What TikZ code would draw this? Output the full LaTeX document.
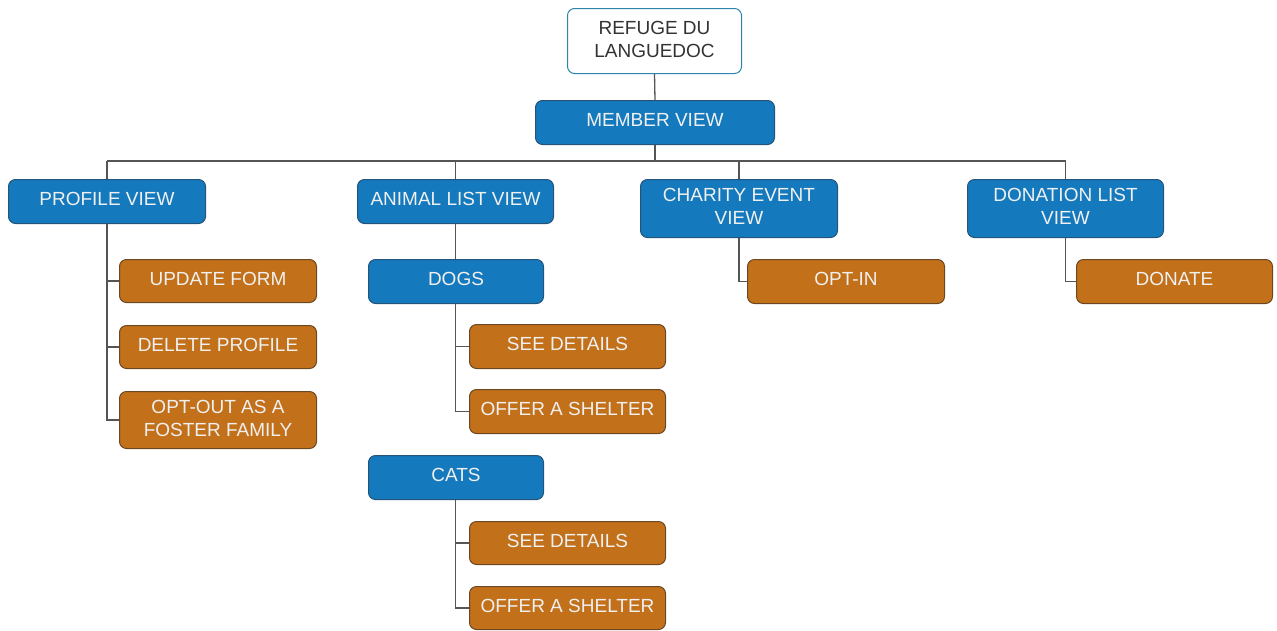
\documentclass[tikz,border=0pt]{standalone}
\usepackage{fontspec}
\setmainfont{Liberation Sans}
\begin{document}
\definecolor{viewblue}{HTML}{1479BD}
\definecolor{viewedge}{HTML}{25547A}
\definecolor{actorange}{HTML}{C2701A}
\definecolor{actedge}{HTML}{6B4722}
\definecolor{rootedge}{HTML}{2C86AC}
\definecolor{wire}{HTML}{555555}
\begin{tikzpicture}[x=1pt,y=-1pt,
  box/.style={rounded corners=7pt,line width=1pt,
    inner sep=0pt,anchor=north west},
  rootbox/.style={box,draw=rootedge,fill=white},
  viewbox/.style={box,draw=viewedge,fill=viewblue},
  actbox/.style={box,draw=actedge,fill=actorange},
  lbl/.style={font=\fontsize{19}{23}\selectfont,align=center,text=white!94!black},
  link/.style={draw=wire,line width=1.3pt}]
\useasboundingbox (0,0) rectangle (1277,630);

% title and top level
\node[rootbox,minimum width=174pt,minimum height=65pt] (root) at (567,8) {};
\node[lbl,text=black!80] (rootlbl) at ([yshift=1.5pt]root.center) {REFUGE DU\\LANGUEDOC};

\node[viewbox,minimum width=239pt,minimum height=44pt] (member) at (535,100) {};
\node[lbl] (memberlbl) at ([yshift=2.5pt]member.center) {MEMBER VIEW};

% the four views
\node[viewbox,minimum width=197pt,minimum height=44pt] (profile) at (8,179) {};
\node[lbl] (profilelbl) at ([yshift=2.5pt]profile.center) {PROFILE VIEW};

\node[viewbox,minimum width=196pt,minimum height=44pt] (animal) at (357,179) {};
\node[lbl] (animallbl) at ([yshift=2.5pt]animal.center) {ANIMAL LIST VIEW};

\node[viewbox,minimum width=197pt,minimum height=58pt] (charity) at (640,179) {};
\node[lbl] (charitylbl) at ([yshift=2.5pt]charity.center) {CHARITY EVENT\\VIEW};

\node[viewbox,minimum width=196pt,minimum height=58pt] (donation) at (967,179) {};
\node[lbl] (donationlbl) at ([yshift=2.5pt]donation.center) {DONATION LIST\\VIEW};

% profile actions
\node[actbox,minimum width=197pt,minimum height=43pt] (update) at (119,259) {};
\node[lbl] (updatelbl) at ([yshift=2.5pt]update.center) {UPDATE FORM};

\node[actbox,minimum width=197pt,minimum height=43pt] (delete) at (119,325) {};
\node[lbl] (deletelbl) at ([yshift=2.5pt]delete.center) {DELETE PROFILE};

\node[actbox,minimum width=197pt,minimum height=57pt] (optout) at (119,391) {};
\node[lbl] (optoutlbl) at ([yshift=2pt]optout.center) {OPT-OUT AS A\\FOSTER FAMILY};

% animal lists
\node[viewbox,minimum width=175pt,minimum height=44pt] (dogs) at (368,259) {};
\node[lbl] (dogslbl) at ([yshift=2.5pt]dogs.center) {DOGS};

\node[actbox,minimum width=196pt,minimum height=44pt] (dogdetails) at (469,324) {};
\node[lbl] (dogdetailslbl) at ([yshift=2.5pt]dogdetails.center) {SEE DETAILS};

\node[actbox,minimum width=196pt,minimum height=44pt] (dogshelter) at (469,389) {};
\node[lbl] (dogshelterlbl) at ([yshift=2.5pt]dogshelter.center) {OFFER A SHELTER};

\node[viewbox,minimum width=175pt,minimum height=44pt] (cats) at (368,455) {};
\node[lbl] (catslbl) at ([yshift=2.5pt]cats.center) {CATS};

\node[actbox,minimum width=196pt,minimum height=43pt] (catdetails) at (469,521) {};
\node[lbl] (catdetailslbl) at ([yshift=2.5pt]catdetails.center) {SEE DETAILS};

\node[actbox,minimum width=196pt,minimum height=43pt] (catshelter) at (469,586) {};
\node[lbl] (catshelterlbl) at ([yshift=2.5pt]catshelter.center) {OFFER A SHELTER};

% event and donation actions
\node[actbox,minimum width=197pt,minimum height=44pt] (optin) at (747,259) {};
\node[lbl] (optinlbl) at ([yshift=2.5pt]optin.center) {OPT-IN};

\node[actbox,minimum width=196pt,minimum height=44pt] (donate) at (1076,259) {};
\node[lbl] (donatelbl) at ([yshift=2.5pt]donate.center) {DONATE};

% connectors
\coordinate (bus) at (0,161);
\draw[link] (root.south) -- (member.north);
\draw[link] (member.south) -- (member.south |- bus);
\draw[link] (profile.north |- bus) -- (donation.north |- bus);
\draw[link] (profile.north |- bus) -- (profile.north);
\draw[link] (animal.north |- bus) -- (animal.north);
\draw[link] (charity.north |- bus) -- (charity.north);
\draw[link] (donation.north |- bus) -- (donation.north);
\draw[link] (profile.south) |- (update.west);
\draw[link] (profile.south) |- (delete.west);
\draw[link] (profile.south) |- (optout.west);
\draw[link] (animal.south) -- (animal.south |- dogs.north);
\draw[link] (animal.south |- dogs.south) |- (dogdetails.west);
\draw[link] (animal.south |- dogs.south) |- (dogshelter.west);
\draw[link] (animal.south |- cats.south) |- (catdetails.west);
\draw[link] (animal.south |- cats.south) |- (catshelter.west);
\draw[link] (charity.south) |- (optin.west);
\draw[link] (donation.south) |- (donate.west);
\end{tikzpicture}
\end{document}
